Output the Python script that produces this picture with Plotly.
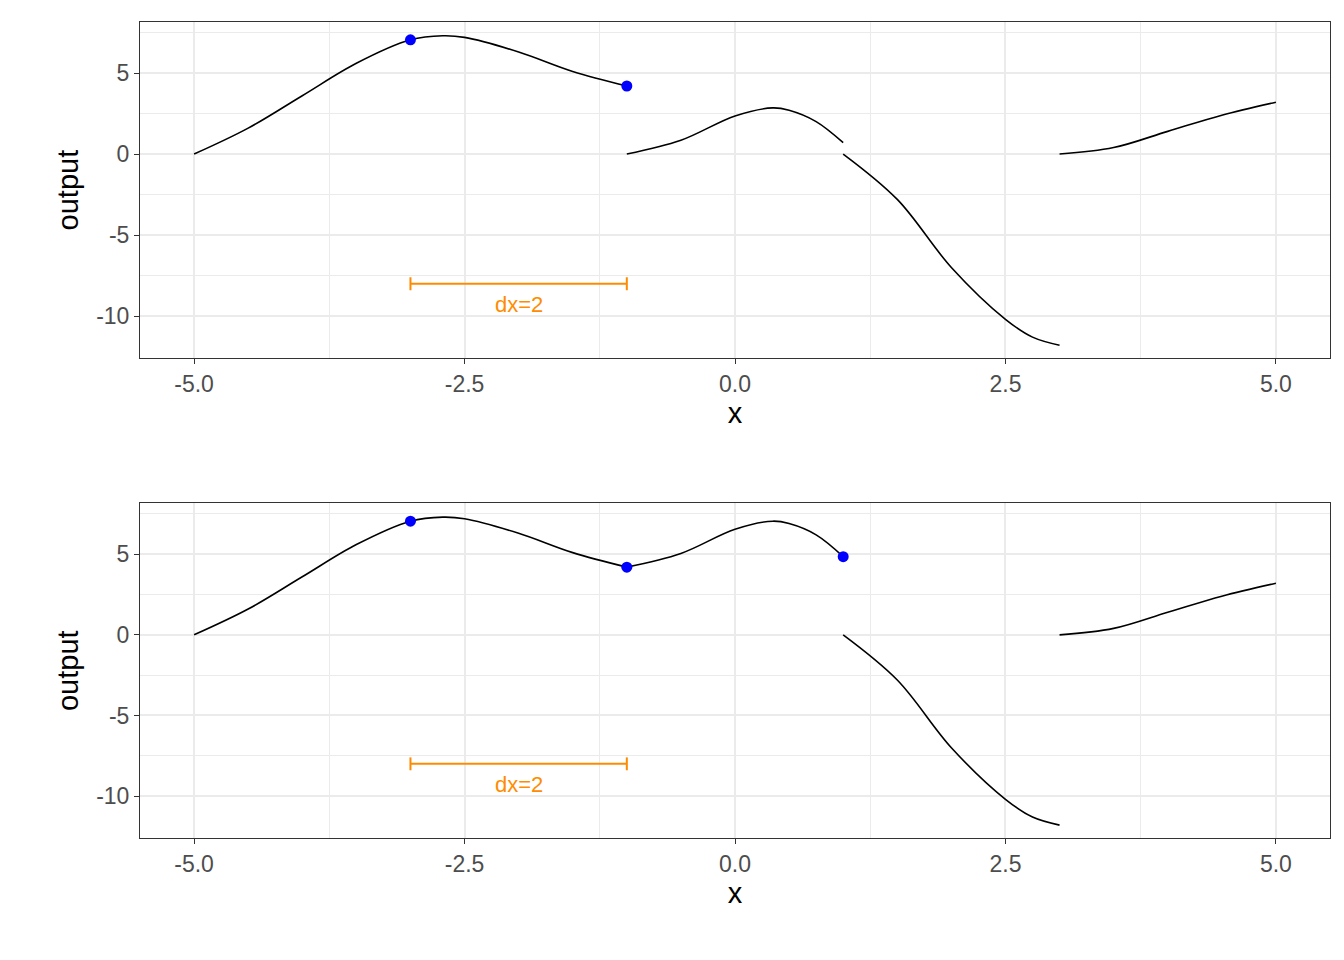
import plotly.graph_objects as go
from plotly.subplots import make_subplots

# Curve pieces (x, output)
seg1_x = [-5, -4.5, -4, -3.5, -3, -2.7, -2.5, -2, -1.5, -1]
seg1_y = [0, 1.6, 3.6, 5.6, 7.05, 7.3, 7.2, 6.3, 5.1, 4.2]
seg2_x = [-1, -0.5, 0, 0.35, 0.5, 0.75, 1]
seg2_y = [0, 0.85, 2.35, 2.85, 2.7, 2.0, 0.7]
seg2b_y = [4.2, 5.05, 6.55, 7.05, 6.9, 6.2, 4.85]
seg3_x = [1, 1.5, 2, 2.5, 2.75, 3]
seg3_y = [0, -2.8, -7.0, -10.2, -11.3, -11.8]
seg4_x = [3, 3.5, 4, 4.5, 5]
seg4_y = [0, 0.4, 1.4, 2.4, 3.2]

top_pts_x, top_pts_y = [-3, -1], [7.05, 4.2]
bot_pts_x, bot_pts_y = [-3, -1, 1], [7.05, 4.2, 4.85]
top_level, bot_level = 4.2, 4.85
dx_from, dx_to, dx_y = -3, -1, -8

fig = make_subplots(rows=2, cols=1, vertical_spacing=0.18)

panels = [
    (1, [(seg1_x, seg1_y), (seg2_x, seg2_y), (seg3_x, seg3_y), (seg4_x, seg4_y)],
     top_pts_x, top_pts_y, top_level),
    (2, [(seg1_x, seg1_y), (seg2_x, seg2b_y), (seg3_x, seg3_y), (seg4_x, seg4_y)],
     bot_pts_x, bot_pts_y, bot_level),
]

for row, segs, px, py, level in panels:
    fig.add_hline(y=level, line=dict(color="rgba(0,0,255,0.25)", width=1.5),
                  row=row, col=1)
    for sx, sy in segs:
        fig.add_trace(go.Scatter(x=sx, y=sy, mode="lines", line_shape="spline",
                                 line=dict(color="black", width=1.6),
                                 showlegend=False), row=row, col=1)
    fig.add_trace(go.Scatter(x=px, y=py, mode="markers",
                             marker=dict(color="blue", size=11),
                             showlegend=False), row=row, col=1)
    # dx error bar
    fig.add_trace(go.Scatter(x=[dx_from, dx_to], y=[dx_y, dx_y], mode="lines",
                             line=dict(color="darkorange", width=2),
                             showlegend=False), row=row, col=1)
    for xe in [dx_from, dx_to]:
        fig.add_trace(go.Scatter(x=[xe, xe], y=[dx_y - 0.4, dx_y + 0.4], mode="lines",
                                 line=dict(color="darkorange", width=2),
                                 showlegend=False), row=row, col=1)
    fig.add_annotation(x=(dx_from + dx_to) / 2, y=dx_y - 1.3, text="dx=2",
                       showarrow=False, font=dict(color="darkorange", size=22),
                       row=row, col=1)

axis_font = dict(family="Liberation Sans, Arial", size=23, color="#4d4d4d")
fig.update_xaxes(range=[-5.5, 5.5], tickvals=[-5, -2.5, 0, 2.5, 5],
                 ticktext=["-5.0", "-2.5", "0.0", "2.5", "5.0"],
                 showgrid=True, gridcolor="#ebebeb", gridwidth=2,
                 minor=dict(tickvals=[-3.75, -1.25, 1.25, 3.75], showgrid=True,
                            gridcolor="#ebebeb", gridwidth=1),
                 zeroline=False, showline=True, mirror=True, linecolor="#333333",
                 ticks="outside", ticklen=5, tickcolor="#333333", tickfont=axis_font,
                 title=dict(text="x", font=dict(size=29, color="black"), standoff=6))
fig.update_yaxes(range=[-12.6, 8.15], tickvals=[-10, -5, 0, 5],
                 ticktext=["-10", "-5", "0", "5"],
                 showgrid=True, gridcolor="#ebebeb", gridwidth=2,
                 minor=dict(tickvals=[-7.5, -2.5, 2.5, 7.5], showgrid=True,
                            gridcolor="#ebebeb", gridwidth=1),
                 zeroline=False, showline=True, mirror=True, linecolor="#333333",
                 ticks="outside", ticklen=5, tickcolor="#333333", tickfont=axis_font,
                 title=dict(text="output", font=dict(size=29, color="black"), standoff=8))

fig.update_layout(width=1344, height=960, plot_bgcolor="white", paper_bgcolor="white",
                  margin=dict(l=132, r=22, t=14, b=130),
                  font=dict(family="Liberation Sans, Arial"))
fig.update_yaxes(domain=[0.588, 1.0], row=1, col=1)
fig.update_yaxes(domain=[0.0, 0.41], row=2, col=1)

fig.write_html("out.html")
